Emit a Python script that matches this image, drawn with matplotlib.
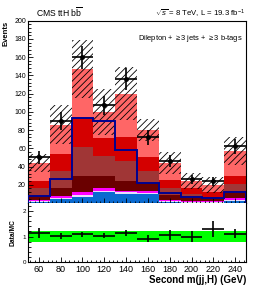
import numpy as np
import matplotlib
matplotlib.use("Agg")
import matplotlib.pyplot as plt

plt.rcParams['font.family'] = ['Liberation Sans', 'DejaVu Sans']
plt.rcParams['mathtext.fontset'] = 'custom'
plt.rcParams['mathtext.rm'] = 'Liberation Sans'
plt.rcParams['mathtext.it'] = 'Liberation Sans:italic'
plt.rcParams['hatch.linewidth'] = 0.6
plt.rcParams['hatch.color'] = '#222222'

# --- data ---
bin_edges = [50, 70, 90, 110, 130, 150, 170, 190, 210, 230, 250]

# stacked backgrounds, bottom to top (events per bin)
bkg_blue     = [1.5, 4.3, 6.8, 11.6, 9.8, 10.0, 1.0, 0.5, 0.5, 2.4]
bkg_lavender = [0.7, 1.4, 2.2, 1.8, 1.8, 1.5, 1.0, 0.5, 0.5, 1.1]
bkg_magenta  = [1.3, 2.3, 2.6, 3.6, 1.8, 1.9, 1.6, 1.0, 0.8, 2.5]
bkg_maroon   = [4.5, 9.0, 18.4, 13.0, 10.6, 8.6, 5.4, 4.0, 2.2, 7.0]
bkg_brown    = [8, 18, 31, 22, 22, 13, 7, 4, 3, 8]
bkg_red      = [8, 19, 32, 19, 26, 16, 9, 6, 5, 9]
bkg_lightred = [20, 32, 54, 29, 48, 29, 19, 8, 8, 27]

mc_unc = [10, 21, 32, 25, 29, 12, 12, 9, 9, 15]
signal = [8, 26, 93, 90, 58, 22, 11, 7, 6, 12]
data = [50, 90, 160, 107, 136, 72, 46, 26, 24, 62]

ratio = [1.13, 1.02, 1.09, 1.03, 1.13, 0.91, 1.05, 0.99, 1.30, 1.11]
ratio_err = [0.20, 0.13, 0.09, 0.10, 0.12, 0.14, 0.19, 0.22, 0.32, 0.17]
ratio_band = [0.21, 0.21, 0.21, 0.21, 0.21, 0.21, 0.21, 0.21, 0.21, 0.21]

layers = [bkg_blue, bkg_lavender, bkg_magenta, bkg_maroon, bkg_brown, bkg_red, bkg_lightred]
colors = ['#0a6ad0', '#eadcfc', '#ff00ff', '#6a0000', '#a03636', '#d40000', '#ff6666']

edges = np.array(bin_edges, dtype=float)
centers = 0.5 * (edges[:-1] + edges[1:])
widths = np.diff(edges)

fig = plt.figure(figsize=(2.58, 2.90), dpi=100)
ax = fig.add_axes([0.1085, 0.300, 0.845, 0.6286])
rax = fig.add_axes([0.1085, 0.0955, 0.845, 0.2045])

# --- stack ---
bottom = np.zeros(len(centers))
for vals, col in zip(layers, colors):
    ax.bar(centers, vals, width=widths, bottom=bottom, color=col, linewidth=0, zorder=1)
    bottom = bottom + np.array(vals)
total = bottom

# --- MC uncertainty (hatched) ---
unc = np.array(mc_unc)
ax.bar(centers, 2 * unc, width=widths, bottom=total - unc, fill=False,
       hatch='/////', linewidth=0, zorder=2)

# --- signal line ---
ax.stairs(signal, edges, color='#000090', linewidth=1.4, zorder=3)

# --- data ---
ax.errorbar(centers, data, xerr=widths / 2, yerr=np.sqrt(data), fmt='o', color='black',
            markersize=2.5, elinewidth=1.2, capsize=0, zorder=4)

ax.set_xlim(50, 250)
ax.set_ylim(0, 200)
ax.set_xticks(np.arange(60, 250, 20))
ax.set_xticks(np.arange(52, 250, 4), minor=True)
ax.set_yticks(np.arange(20, 201, 20))
ax.set_yticks(np.arange(0, 201, 4), minor=True)
ax.tick_params(axis='both', which='both', direction='in', top=False, right=False,
               labelsize=5, width=0.6, pad=1.5)
ax.tick_params(axis='both', which='major', length=3.6)
ax.tick_params(axis='both', which='minor', length=1.8)
ax.tick_params(axis='x', labelbottom=False)
for s in ax.spines.values():
    s.set_linewidth(0.8)
ax.set_ylabel('Events', fontsize=5.5, fontweight='bold', loc='top', labelpad=3)

ax.text(0.985, 0.9, r'Dilepton + $\geq$3 jets + $\geq$3 b-tags', transform=ax.transAxes,
        ha='right', va='center', fontsize=5.4)
fig.text(0.1395, 0.942, r'CMS ttH b$\overline{\mathrm{b}}$', ha='left', va='baseline',
         fontsize=6.2)
fig.text(0.95, 0.942, r'$\sqrt{s}$ = 8 TeV, L = 19.3 fb$^{-1}$', ha='right', va='baseline',
         fontsize=5.6)

# --- ratio panel ---
band = np.array(ratio_band)
rax.bar(centers, 2 * band, width=widths, bottom=1 - band, color='#00ff00', linewidth=0, zorder=1)
rax.errorbar(centers, ratio, xerr=widths / 2, yerr=ratio_err, fmt='none', ecolor='black',
             elinewidth=1.2, capsize=0, zorder=3)
rax.set_xlim(50, 250)
rax.set_ylim(0, 2.3)
rax.set_xticks(np.arange(60, 250, 20))
rax.set_xticks(np.arange(52, 250, 4), minor=True)
rax.set_yticks([0, 1, 2])
rax.set_yticks(np.arange(0, 2.3, 0.2), minor=True)
rax.tick_params(axis='both', which='both', direction='in', top=False, right=False, width=0.6)
rax.tick_params(axis='both', which='major', length=3.6)
rax.tick_params(axis='both', which='minor', length=1.8)
rax.tick_params(axis='x', labelsize=6.5, pad=2)
rax.tick_params(axis='y', labelsize=4.5, pad=1.5)
for s in rax.spines.values():
    s.set_linewidth(0.8)
rax.spines['top'].set_visible(False)
rax.set_ylabel('Data/MC', fontsize=4.8, fontweight='bold', labelpad=4)
rax.set_xlabel('Second m(jj,H) (GeV)', fontsize=7, fontweight='bold', loc='right', labelpad=1)

fig.savefig('out.png', dpi=100)
